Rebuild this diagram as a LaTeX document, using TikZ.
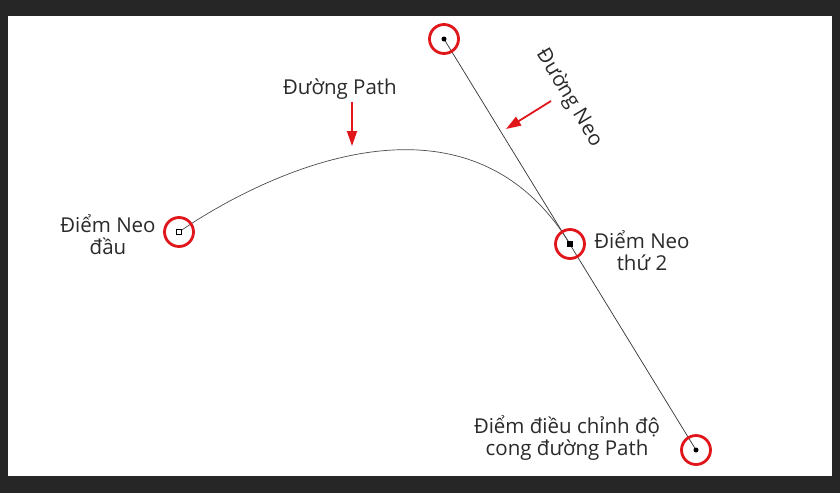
\documentclass[tikz,border=0pt]{standalone}
\usepackage{fontspec}
\setmainfont{Open Sans}
\usetikzlibrary{arrows.meta}
\definecolor{frame}{HTML}{262626}
\definecolor{txt}{HTML}{2A2A2A}
\definecolor{mark}{HTML}{E0161B}
\tikzset{
  lbl/.style={text=txt, font=\fontsize{20.5}{22}\selectfont, align=center, inner sep=0pt},
  ring/.style={circle, draw=mark, line width=2.8pt, minimum size=29pt, inner sep=0pt},
  redarrow/.style={draw=mark, line width=1.8pt, -{Triangle[length=15pt,width=10pt]}},
  thin/.style={draw=black!80, line width=0.7pt},
}
\begin{document}
\begin{tikzpicture}[x=1pt,y=-1pt]
\useasboundingbox (0,0) rectangle (840,493);
\fill[frame] (0,0) rectangle (840,493);
\fill[white] (8,16) rectangle (832,476);
% points
\coordinate (s) at (179,232);
\coordinate (h1) at (444,39);
\coordinate (a2) at (570,244);
\coordinate (h2) at (696,450);
% handle line and path curve
\draw[thin] (h1) -- (h2);
\draw[thin, draw=black!70] (s) .. controls (s) and (h1) .. (a2);
% point markers
\fill (h1) circle (2.5pt);
\fill (h2) circle (2.5pt);
\node[draw=black, fill=black, minimum size=5pt, inner sep=0pt] (a2m) at (a2) {};
\node[draw=black, fill=white, line width=0.7pt, minimum size=5pt, inner sep=0pt] (sm) at (s) {};
% rings
\node[ring] (rs) at (s) {};
\node[ring] (rh1) at (h1) {};
\node[ring] (ra2) at (a2) {};
\node[ring] (rh2) at (h2) {};
% labels
\node[lbl] (ls) at (108,235) {Điểm Neo\\đầu};
\node[lbl] (la2) at (642,251) {Điểm Neo\\thứ 2};
\node[lbl] (lh2) at (567,438) {Điểm điều chỉnh độ\\cong đường Path};
\node[lbl] (lpath) at (340,89) {Đường Path};
\node[lbl, rotate=-59] (lneo) at (569,98) {Đường Neo};
% red arrows
\coordinate (t1) at (352,102);
\coordinate (e1) at (352,146);
\draw[redarrow] (t1) -- (e1);
\coordinate (t2) at (551,101);
\coordinate (e2) at (506,129);
\draw[redarrow] (t2) -- (e2);
\end{tikzpicture}
\end{document}
